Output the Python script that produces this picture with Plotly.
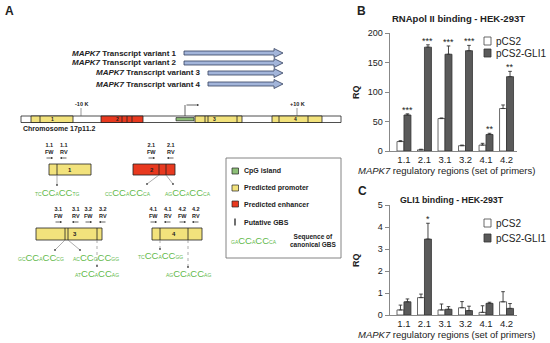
import plotly.graph_objects as go

W, H = 550, 343
FONT = "Liberation Sans, Arial, sans-serif"

# ---------------- Panel B / C data ----------------
regions = ["1.1", "2.1", "3.1", "3.2", "4.1", "4.2"]
rnapol_pcs2 = [16, 2, 55, 9, 10, 72]
rnapol_pcs2_err = [1.5, 1, 1, 1, 3, 6]
rnapol_gli1 = [61, 176, 164, 170, 28, 126]
rnapol_gli1_err = [2, 4, 14, 9, 2, 9]
rnapol_sig = ["***", "***", "***", "***", "**", "**"]

gli1_pcs2 = [0.23, 0.79, 0.23, 0.33, 0.12, 0.6]
gli1_pcs2_err = [0.22, 0.16, 0.27, 0.28, 0.3, 0.46]
gli1_gli1 = [0.6, 3.45, 0.26, 0.2, 0.53, 0.3]
gli1_gli1_err = [0.13, 0.72, 0.12, 0.2, 0.05, 0.22]
gli1_sig = ["", "*", "", "", "", ""]

series_names = ["pCS2", "pCS2-GLI1"]

# ---------------- Panel A schematic content ----------------
transcripts = ["Transcript variant 1", "Transcript variant 2",
               "Transcript variant 3", "Transcript variant 4"]
canonical_gbs = ("GA", "A", "CA")
gbs_sequences = [("TC", "A", "TG"), ("CC", "A", "CA"), ("AG", "A", "CA"),
                 ("GC", "A", "CG"), ("AC", "G", "GG"), ("AT", "A", "AG"),
                 ("TC", "A", "GG"), ("AG", "A", "AG")]
primer_labels = ["1.1", "1.1", "2.1", "2.1", "3.1", "3.1", "3.2", "3.2",
                 "4.1", "4.1", "4.2", "4.2"]
primer_dirs = ["FW", "RV"] * 6
legend_items = ["CpG island", "Predicted promoter", "Predicted enhancer", "Putative GBS"]

YELLOW = "#f2e27c"
RED = "#e8391f"
GREEN = "#8dbf77"
SEQ_GREEN = "#62b94a"
DARK = "#5a5a5a"

shapes, ann = [], []


def X(px):
    return px / W


def Y(py):
    return 1 - py / H


def rect(x0, y0, x1, y1, fill, line="#222", lw=0.8):
    shapes.append(dict(type="rect", xref="paper", yref="paper", x0=X(x0), x1=X(x1),
                       y0=Y(y1), y1=Y(y0), fillcolor=fill, line=dict(color=line, width=lw),
                       layer="above"))


def seg(x0, y0, x1, y1, color="#222", lw=0.8, dash="solid"):
    shapes.append(dict(type="line", xref="paper", yref="paper", x0=X(x0), x1=X(x1),
                       y0=Y(y0), y1=Y(y1), line=dict(color=color, width=lw, dash=dash),
                       layer="above"))


def dot(x, y, r=0.9, color="#444"):
    shapes.append(dict(type="circle", xref="paper", yref="paper", x0=X(x - r), x1=X(x + r),
                       y0=Y(y + r), y1=Y(y - r), fillcolor=color, line=dict(width=0),
                       layer="above"))


def text(x, y, t, size=7, bold=True, color="#222", xa="center", ya="middle"):
    if bold:
        t = "<b>" + t + "</b>"
    ann.append(dict(xref="paper", yref="paper", x=X(x), y=Y(y), text=t, showarrow=False,
                    xanchor=xa, yanchor=ya, font=dict(family=FONT, size=size, color=color)))


def small_arrow(x_tip, y, dx, lw=0.7, head=0.55):
    ann.append(dict(xref="paper", yref="paper", x=X(x_tip), y=Y(y), text="", showarrow=True,
                    ax=dx, ay=0, arrowhead=2, arrowsize=head, arrowwidth=lw,
                    arrowcolor="#222"))


def seq_html(s):
    pre, mid, post = s
    sm = lambda t: '<span style="font-size:5px">' + t + '</span>'
    return sm(pre) + "CC" + sm(mid) + "CC" + sm(post)


def seq(x, y, s):
    ann.append(dict(xref="paper", yref="paper", x=X(x), y=Y(y), text=seq_html(s),
                    showarrow=False, xanchor="center", yanchor="middle",
                    font=dict(family=FONT, size=9.5, color=SEQ_GREEN)))


# Panel letters
text(9, 11, "A", size=12)
text(361, 11, "B", size=12)
text(362, 191, "C", size=12)

# Transcript variants with block arrows
tr_y = [53, 63, 73, 84]
tr_start = [184, 184, 208, 208]
for name, yy, x0 in zip(transcripts, tr_y, tr_start):
    text(x0 - 5, yy, "<i>MAPK7</i> " + name, size=8, xa="right")
    x1 = 283
    xh = x1 - 9
    pts = [(x0, yy - 2), (xh, yy - 2), (xh, yy - 4.5), (x1, yy), (xh, yy + 4.5),
           (xh, yy + 2), (x0, yy + 2)]
    path = "M " + " L ".join(f"{X(a):.5f},{Y(b):.5f}" for a, b in pts) + " Z"
    shapes.append(dict(type="path", xref="paper", yref="paper", path=path,
                       fillcolor="#a3b5da", line=dict(color="#34405e", width=0.8),
                       layer="above"))

# Chromosome bar
rect(21, 116, 341, 122.5, "white")
rect(31, 116, 73, 122.5, YELLOW)
rect(101, 116, 143, 122.5, RED)
rect(195, 116, 242, 122.5, YELLOW)
rect(272, 116, 322, 122.5, YELLOW)
rect(176, 117.6, 194, 120.8, GREEN, lw=0.7)
for xd in [40, 122, 127, 132, 205, 208, 237, 279, 308]:
    seg(xd, 116, xd, 122.5, lw=0.8)
for xl, lab in [(52, "1"), (117, "2"), (214, "3"), (295, "4")]:
    text(xl, 119.3, lab, size=5)
text(81, 104, "-10 K", size=5.5)
seg(81, 108, 81, 116, color="#555", lw=0.6)
text(297, 104, "+10 K", size=5.5)
seg(297, 108, 297, 116, color="#555", lw=0.6)
seg(185, 116, 185, 105, color="#222", lw=0.7)
small_arrow(199, 105, -14)
text(21, 129, "Chromosome 17p11.2", size=7, xa="left")

# Regulatory regions boxes
rect(49, 164, 91, 175, YELLOW)
seg(57, 164, 57, 175)
text(70, 169.5, "1", size=6)

rect(133, 164, 175, 175, RED)
seg(159, 164, 159, 175)
seg(166, 164, 166, 175)
text(152, 169.5, "2", size=6)

rect(36, 228, 102, 240, YELLOW)
for xd in [65, 68, 97]:
    seg(xd, 228, xd, 240)
text(75, 234, "3", size=6)

rect(152, 228, 202, 240, YELLOW)
for xd in [160, 188]:
    seg(xd, 228, xd, 240)
text(174, 234, "4", size=6)

# Primers
primer_x = [49, 64, 151, 171, 58, 76, 88, 103, 153, 168, 182, 196]
primer_row = [0, 0, 0, 0, 1, 1, 1, 1, 1, 1, 1, 1]
row_y = [(148.5, 158), (212.5, 222)]
for lab, d, px_, r in zip(primer_labels, primer_dirs, primer_x, primer_row):
    ty, ay = row_y[r]
    text(px_, ty, lab + "<br>" + d, size=5.5)
    if d == "FW":
        small_arrow(px_ + 4, ay, -8)
    else:
        small_arrow(px_ - 4, ay, 8)

# Connectors and GBS sequences
connectors = [((57, 175), (57, 185), "solid"),
              ((159, 175), (147, 184), "solid"),
              ((166, 175), (173, 184), "solid"),
              ((65, 240), (55, 250), "solid"),
              ((68, 240), (80, 250), "solid"),
              ((97, 240), (97, 266), "dot"),
              ((160, 240), (160, 249), "dot"),
              ((188, 240), (188, 267), "dot")]
for (a, b), (c, d), ds in connectors:
    seg(a, b, c, d, color="#777", lw=0.6, dash=ds)
    dot(c, d)
seq_pos = [(57, 192), (128, 192), (188, 192), (41, 257), (96, 257), (97, 273),
           (160, 255), (188, 273)]
for (sx, sy), s in zip(seq_pos, gbs_sequences):
    seq(sx, sy, s)

# Legend box of panel A
rect(226, 158, 341, 258, "rgba(0,0,0,0)", line="#777", lw=0.9)
leg_y = [171, 188, 204, 222]
leg_fill = [GREEN, YELLOW, RED, None]
for lab, ly, fc in zip(legend_items, leg_y, leg_fill):
    if fc:
        rect(232, ly - 3, 238.5, ly + 3, fc, lw=0.7)
    else:
        seg(235, ly - 3.5, 235, ly + 3.5, lw=1.3)
    text(242, ly, lab, size=7, xa="left")
seq(254, 241, canonical_gbs)
text(313, 240.5, "Sequence of<br>canonical GBS", size=6.5)

# ---------------- Bar charts ----------------
fig = go.Figure()


def add_bars(vals1, err1, vals2, err2, xa, ya):
    fig.add_trace(go.Bar(x=regions, y=vals1, name=series_names[0], xaxis=xa, yaxis=ya,
                         marker=dict(color="white", line=dict(color="#444", width=0.8)),
                         error_y=dict(type="data", array=err1, arrayminus=[0] * len(err1),
                                      symmetric=False, color="#333", thickness=0.9, width=1.8),
                         showlegend=False, hoverinfo="skip"))
    fig.add_trace(go.Bar(x=regions, y=vals2, name=series_names[1], xaxis=xa, yaxis=ya,
                         marker=dict(color=DARK, line=dict(color="#333", width=0.8)),
                         error_y=dict(type="data", array=err2, arrayminus=[0] * len(err2),
                                      symmetric=False, color="#333", thickness=0.9, width=1.8),
                         showlegend=False, hoverinfo="skip"))


add_bars(rnapol_pcs2, rnapol_pcs2_err, rnapol_gli1, rnapol_gli1_err, "x", "y")
add_bars(gli1_pcs2, gli1_pcs2_err, gli1_gli1, gli1_gli1_err, "x2", "y2")

for i, (v, e, s) in enumerate(zip(rnapol_gli1, rnapol_gli1_err, rnapol_sig)):
    if s:
        ann.append(dict(xref="x", yref="y", x=i + 0.17, y=v + e, text=s, showarrow=False,
                        yanchor="bottom", yshift=-3, font=dict(family=FONT, size=9, color="#222")))
for i, (v, e, s) in enumerate(zip(gli1_gli1, gli1_gli1_err, gli1_sig)):
    if s:
        ann.append(dict(xref="x2", yref="y2", x=i + 0.17, y=v + e, text=s, showarrow=False,
                        yanchor="bottom", yshift=-3, font=dict(family=FONT, size=9, color="#222")))

# Panel titles, axis titles
text(458, 18, "RNApol II binding - HEK-293T", size=9.5)
text(452, 200, "GLI1 binding - HEK-293T", size=8.8)
for yy in [171, 334]:
    text(446, yy, "<i>MAPK7</i> regulatory regions (set of primers)", size=9.5, bold=False)
for yy in [92, 260]:
    ann.append(dict(xref="paper", yref="paper", x=X(356), y=Y(yy), text="<b>RQ</b>",
                    showarrow=False, textangle=-90, xanchor="center", yanchor="middle",
                    font=dict(family=FONT, size=9, color="#222")))

# Manual legends for B and C
for (y1, y2) in [(41, 53), (223, 238)]:
    rect(484, y1 - 4, 491, y1 + 4, "white", line="#444")
    rect(484, y2 - 4, 491, y2 + 4, DARK, line="#333")
    text(494, y1, series_names[0], size=10, bold=False, xa="left")
    text(494, y2, series_names[1], size=10, bold=False, xa="left")

xdom = [389.6 / W, 516.8 / W]
common_x = dict(range=[-0.7, 5.5], showline=True, linecolor="#888", linewidth=1,
                ticks="", showgrid=False, zeroline=False,
                tickfont=dict(family=FONT, size=9.5, color="#222"), automargin=False)
common_y = dict(showline=True, linecolor="#888", linewidth=1, ticks="outside", ticklen=4,
                tickcolor="#888", showgrid=False, zeroline=False,
                tickfont=dict(family=FONT, size=9, color="#222"), automargin=False)

fig.update_layout(
    width=W, height=H, margin=dict(l=0, r=0, t=0, b=0),
    paper_bgcolor="white", plot_bgcolor="white",
    barmode="group", bargap=0.32, bargroupgap=0,
    showlegend=False,
    xaxis=dict(domain=xdom, anchor="y", **common_x),
    yaxis=dict(domain=[1 - 151 / H, 1 - 33 / H], anchor="x", range=[0, 200],
               tickvals=[0, 50, 100, 150, 200], **common_y),
    xaxis2=dict(domain=xdom, anchor="y2", **common_x),
    yaxis2=dict(domain=[1 - 315 / H, 1 - 205 / H], anchor="x2", range=[0, 5],
                tickvals=[0, 1, 2, 3, 4, 5], **common_y),
    shapes=shapes, annotations=ann,
    font=dict(family=FONT),
)

fig.write_html("out.html", config={"displayModeBar": False},
               post_script="document.body.style.margin='0';document.body.style.padding='0';")
